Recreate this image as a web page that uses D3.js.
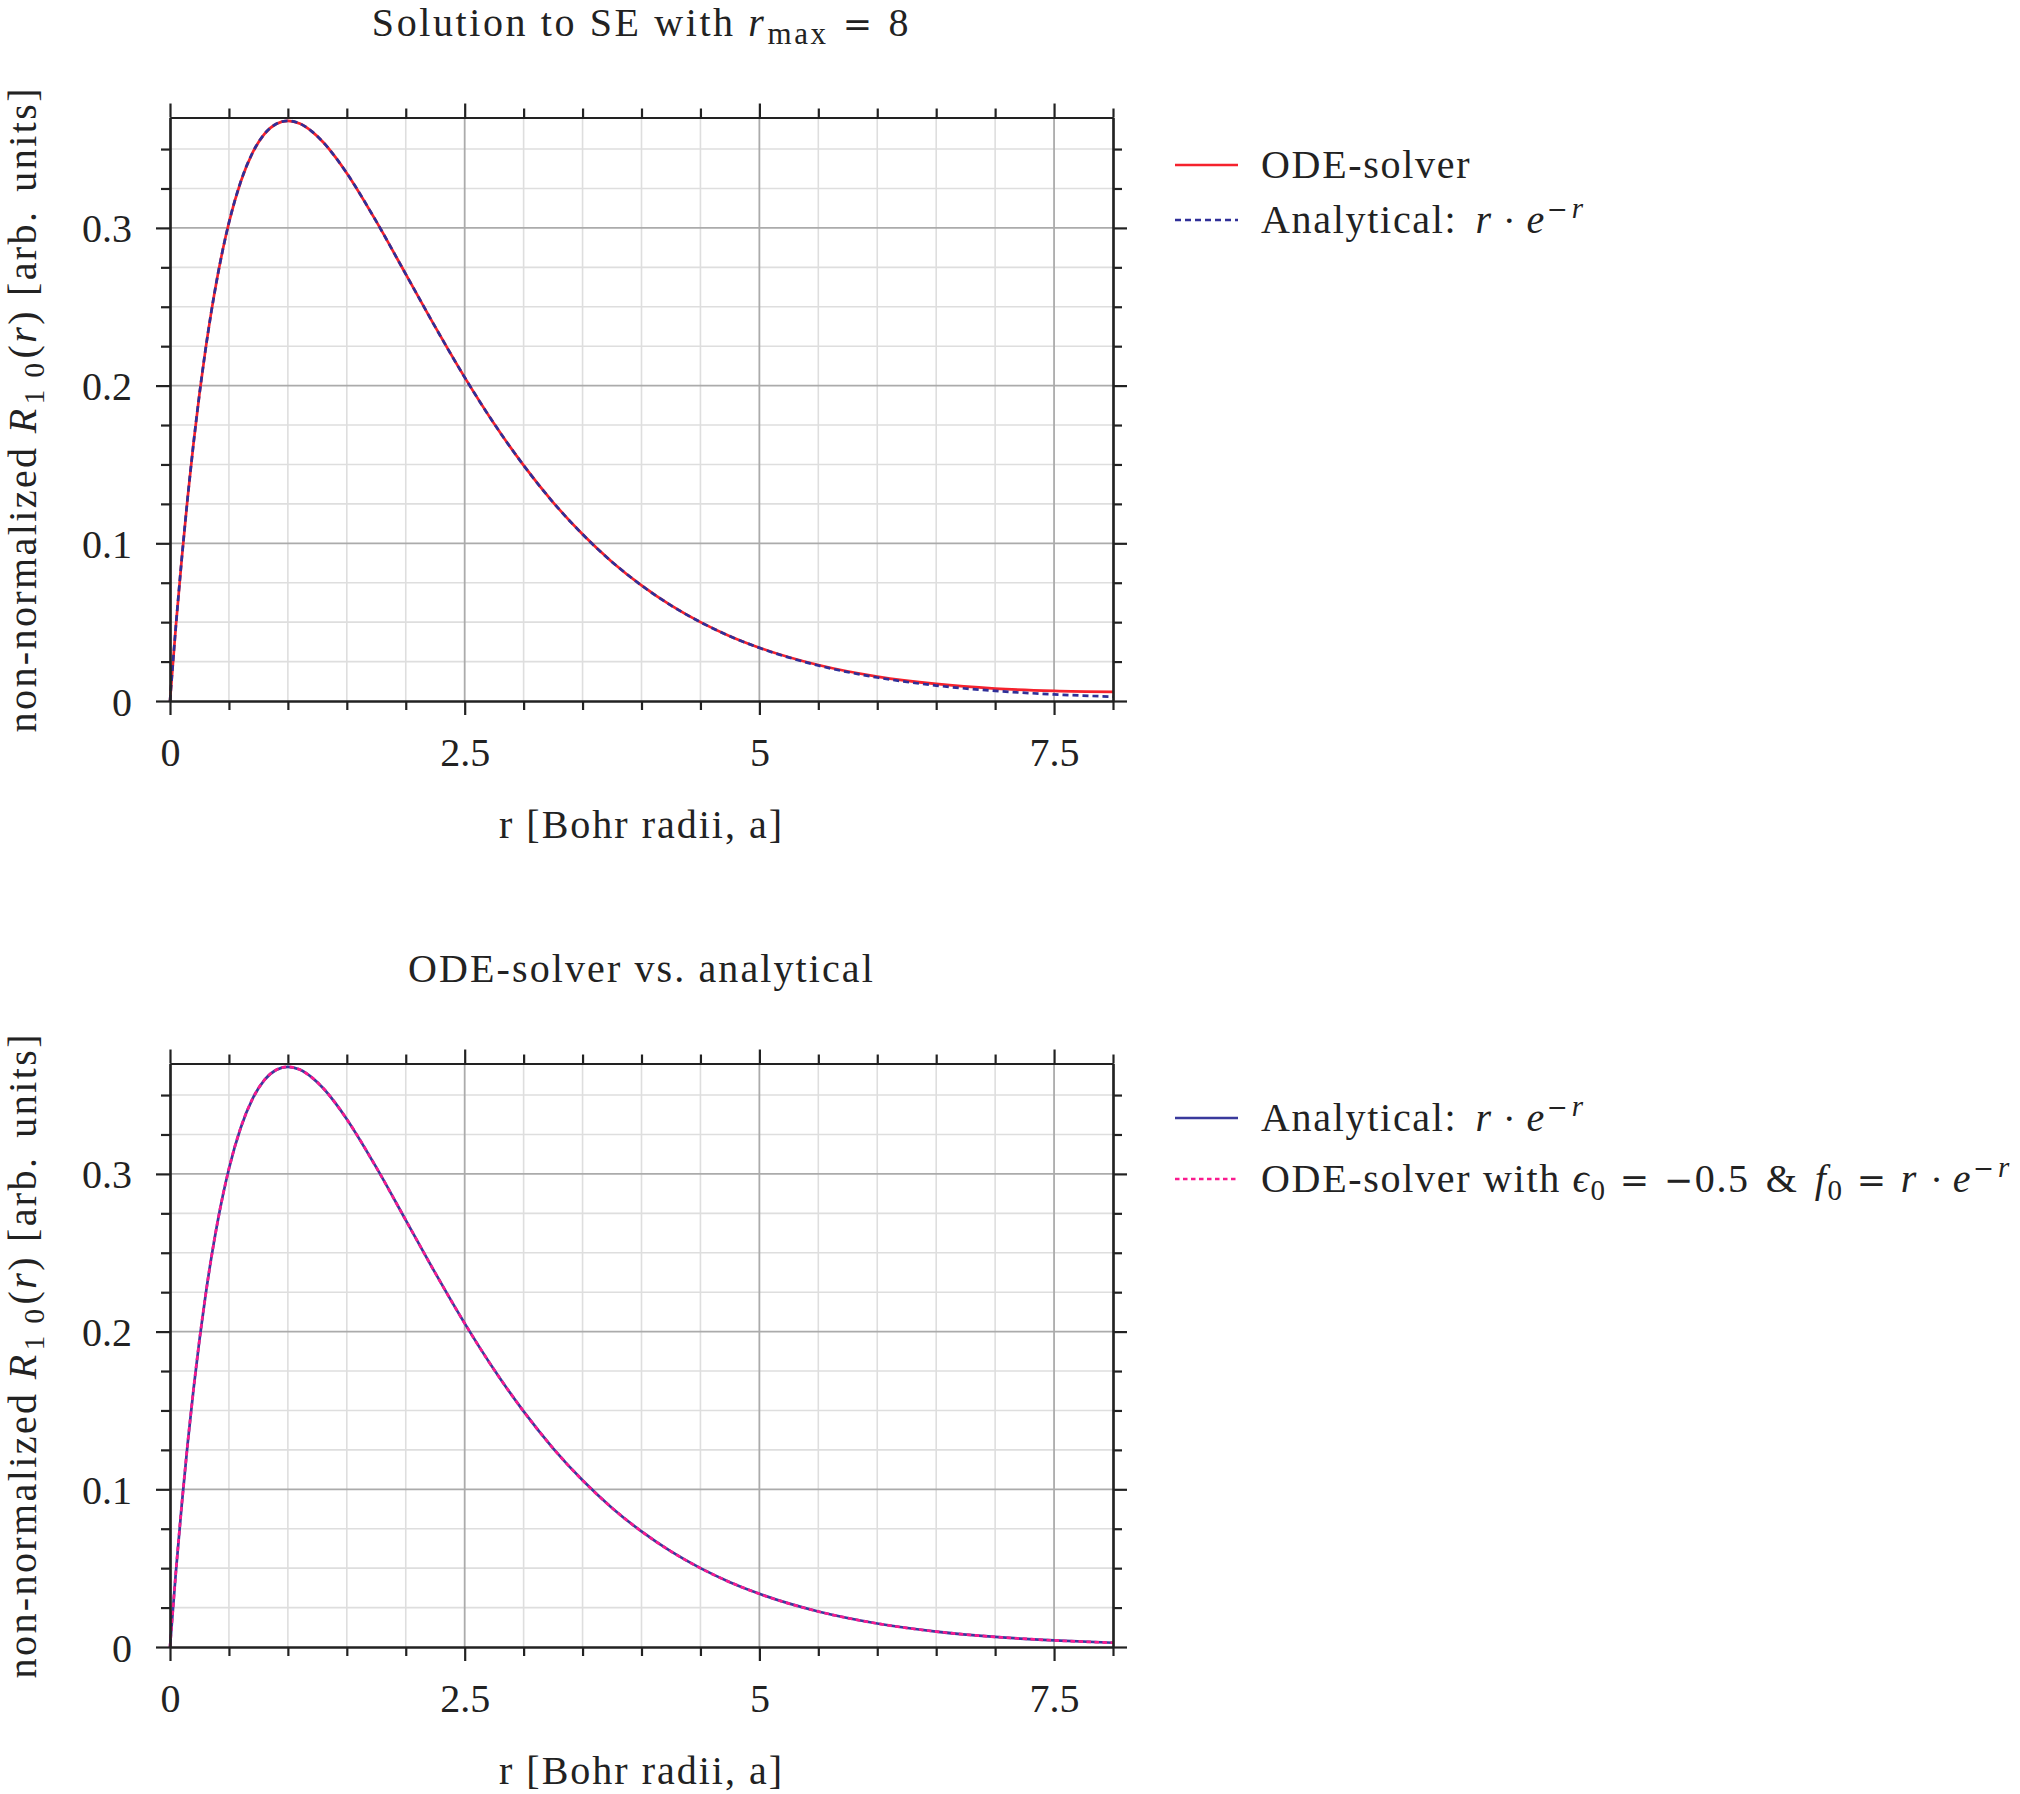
<!DOCTYPE html>
<html>
<head>
<meta charset="utf-8">
<script src="https://cdn.jsdelivr.net/npm/d3@7"></script>
<style>
  html, body { margin: 0; padding: 0; background: #ffffff; }
  svg { display: block; }
  text { font-family: "Liberation Serif", "Times New Roman", serif; fill: #222; }
</style>
</head>
<body>
<svg id="chart" width="2020" height="1794"></svg>
<script>
// ---------------- data ----------------
const rValues = [0, 0.05, 0.1, 0.15, 0.2, 0.25, 0.3, 0.35, 0.4, 0.45, 0.5, 0.6, 0.7, 0.8, 0.9, 1.0,
  1.1, 1.2, 1.3, 1.4, 1.5, 1.75, 2, 2.25, 2.5, 2.75, 3, 3.25, 3.5, 3.75, 4, 4.25, 4.5, 4.75, 5,
  5.5, 6, 6.5, 7, 7.5, 8];
const analyticalValues = [0, 0.0476, 0.0905, 0.1291, 0.1637, 0.1947, 0.2222, 0.2466, 0.2681, 0.2869,
  0.3033, 0.3293, 0.3476, 0.3595, 0.3659, 0.3679, 0.3662, 0.3614, 0.3543, 0.3452, 0.3347, 0.3041,
  0.2707, 0.2372, 0.2052, 0.1758, 0.1494, 0.1260, 0.1057, 0.0882, 0.0733, 0.0606, 0.0500, 0.0411,
  0.0337, 0.0225, 0.0149, 0.0098, 0.0064, 0.0042, 0.0027];
const odeTopValues = [0, 0.0476, 0.0905, 0.1291, 0.1637, 0.1947, 0.2222, 0.2466, 0.2681, 0.2869,
  0.3033, 0.3293, 0.3476, 0.3595, 0.3659, 0.3679, 0.3662, 0.3614, 0.3543, 0.3452, 0.3347, 0.3041,
  0.2707, 0.2372, 0.2052, 0.1758, 0.1494, 0.1260, 0.1057, 0.0882, 0.0733, 0.0606, 0.0500, 0.0411,
  0.0338, 0.0228, 0.0155, 0.0108, 0.0079, 0.0064, 0.0058];
const odeBottomValues = [0, 0.0476, 0.0905, 0.1291, 0.1637, 0.1947, 0.2222, 0.2466, 0.2681, 0.2869,
  0.3033, 0.3293, 0.3476, 0.3595, 0.3659, 0.3679, 0.3662, 0.3614, 0.3543, 0.3452, 0.3347, 0.3041,
  0.2707, 0.2372, 0.2052, 0.1758, 0.1494, 0.1260, 0.1057, 0.0882, 0.0733, 0.0606, 0.0500, 0.0411,
  0.0337, 0.0225, 0.0149, 0.0098, 0.0064, 0.0042, 0.0027];

const xMajorTicks = [0, 2.5, 5, 7.5];
const xTickLabels = ["0", "2.5", "5", "7.5"];
const xMinorTicks = [0.5, 1, 1.5, 2, 3, 3.5, 4, 4.5, 5.5, 6, 6.5, 7, 8];
const yMajorTicks = [0, 0.1, 0.2, 0.3];
const yTickLabels = ["0", "0.1", "0.2", "0.3"];
const yMinorTicks = [0.025, 0.05, 0.075, 0.125, 0.15, 0.175, 0.225, 0.25, 0.275, 0.325, 0.35];
const xDomain = [0, 8];
const yDomain = [0, 0.37];

// ---------------- layout ----------------
const svg = d3.select("#chart");
const X0 = 170, X1 = 1113;
const PX_PER_UNIT_Y = 1577;

const analyticalLabel = [["Analytical:", {}], ["r", {it: true, dx: 18}], ["·", {op: true, dx: 11}], ["e", {it: true, dx: 10}],
  ["−", {sup: true, op: true, dx: 1}], ["r", {sup: true, it: true, dx: 2}]];

const panels = [
  { y0: 701, titleY: 36,
    title: [["Solution to SE with ", {}], ["r", {it: true}], ["max", {sub: true, dx: 1, big: true}], ["=", {op: true, dx: 14}], ["8", {dx: 14}]],
    titleLS: 2.6,
    series: [
      { values: odeTopValues, color: "#f5222d", dash: null },
      { values: analyticalValues, color: "#2f2f98", dash: "6 4" }
    ],
    legendRows: [165, 220],
    legend: [
      [[["ODE-solver", {}]], "#f5222d", null],
      [analyticalLabel, "#2f2f98", "6 4"]
    ]
  },
  { y0: 1647, titleY: 982,
    title: [["ODE-solver vs. analytical", {}]],
    titleLS: 2.1,
    series: [
      { values: analyticalValues, color: "#3a3a9c", dash: null },
      { values: odeBottomValues, color: "#fa1a8e", dash: "4.5 3.5" }
    ],
    legendRows: [1118, 1179],
    legend: [
      [analyticalLabel, "#3a3a9c", null],
      [[["ODE-solver with ", {}], ["ϵ", {it: true}], ["0", {sub: true}], ["=", {op: true, dx: 13}], ["−", {op: true, dx: 13}],
        ["0.5", {}], ["&", {dx: 16}], ["f", {it: true, dx: 16}], ["0", {sub: true}], ["=", {op: true, dx: 13}],
        ["r", {it: true, dx: 13}], ["·", {op: true, dx: 13}], ["e", {it: true, dx: 9}],
        ["−", {sup: true, op: true, dx: 1}], ["r", {sup: true, it: true, dx: 2}]],
        "#fa1a8e", "4.5 3.5"]
    ]
  }
];

const FS = 40;          // main font size
const SFS = 29;         // sub/superscript size

function richText(sel, parts) {
  let shift = 0;
  parts.forEach(([str, o]) => {
    let target = 0;
    if (o.sub) target = 8;
    if (o.sup) target = -15;
    const t = sel.append("tspan").text(str);
    if (target !== shift) { t.attr("dy", target - shift); shift = target; }
    if (o.dx) t.attr("dx", o.dx);
    if (o.it) t.attr("font-style", "italic");
    if (o.op) t.style("font-family", "'DejaVu Serif', serif").attr("font-size", (o.sup || o.sub) ? 25 : 35);
    else if (o.big) t.attr("font-size", 31);
    else if (o.sub || o.sup) t.attr("font-size", SFS);
  });
}

panels.forEach(p => {
  const x = d3.scaleLinear().domain(xDomain).range([X0, X1]);
  const y = d3.scaleLinear().domain(yDomain).range([p.y0, p.y0 - yDomain[1] * PX_PER_UNIT_Y]);
  const g = svg.append("g");
  const yTop = y(yDomain[1]);

  // grid
  const grid = g.append("g");
  grid.selectAll(".xminor").data(xMinorTicks.filter(v => v < 8)).join("line")
    .attr("x1", d => x(d)).attr("x2", d => x(d)).attr("y1", p.y0).attr("y2", yTop)
    .attr("stroke", "#dedede").attr("stroke-width", 1.6);
  grid.selectAll(".yminor").data(yMinorTicks).join("line")
    .attr("x1", X0).attr("x2", X1).attr("y1", d => y(d)).attr("y2", d => y(d))
    .attr("stroke", "#dedede").attr("stroke-width", 1.6);
  grid.selectAll(".xmajor").data(xMajorTicks.filter(v => v > 0)).join("line")
    .attr("x1", d => x(d)).attr("x2", d => x(d)).attr("y1", p.y0).attr("y2", yTop)
    .attr("stroke", "#ababab").attr("stroke-width", 1.8);
  grid.selectAll(".ymajor").data(yMajorTicks.filter(v => v > 0)).join("line")
    .attr("x1", X0).attr("x2", X1).attr("y1", d => y(d)).attr("y2", d => y(d))
    .attr("stroke", "#ababab").attr("stroke-width", 1.8);

  // curves
  const line = d3.line().x((d, i) => x(rValues[i])).y(d => y(d)).curve(d3.curveMonotoneX);
  p.series.forEach(s => {
    g.append("path").datum(s.values).attr("d", line)
      .attr("fill", "none").attr("stroke", s.color).attr("stroke-width", 2.7)
      .attr("stroke-dasharray", s.dash);
  });

  // axes (ticks outward)
  function styleAxis(a) {
    a.selectAll("path.domain").attr("stroke", "#222").attr("stroke-width", 2.2);
    a.selectAll(".tick line").attr("stroke", "#222").attr("stroke-width", 2.2);
    a.selectAll("text").style("font-family", "'Liberation Serif', serif").attr("font-size", FS).attr("fill", "#222");
  }
  const bottomMajor = g.append("g").attr("transform", `translate(0,${p.y0})`)
    .call(d3.axisBottom(x).tickValues(xMajorTicks).tickFormat((d, i) => xTickLabels[i])
      .tickSize(14).tickSizeOuter(0).tickPadding(22));
  styleAxis(bottomMajor);
  bottomMajor.selectAll("text").attr("dy", null).attr("y", 65);
  const bottomMinor = g.append("g").attr("transform", `translate(0,${p.y0})`)
    .call(d3.axisBottom(x).tickValues(xMinorTicks).tickFormat("").tickSize(9).tickSizeOuter(0));
  styleAxis(bottomMinor);
  const topMajor = g.append("g").attr("transform", `translate(0,${yTop})`)
    .call(d3.axisTop(x).tickValues(xMajorTicks).tickFormat("").tickSize(14).tickSizeOuter(0));
  styleAxis(topMajor);
  const topMinor = g.append("g").attr("transform", `translate(0,${yTop})`)
    .call(d3.axisTop(x).tickValues(xMinorTicks).tickFormat("").tickSize(9).tickSizeOuter(0));
  styleAxis(topMinor);

  const leftMajor = g.append("g").attr("transform", `translate(${X0},0)`)
    .call(d3.axisLeft(y).tickValues(yMajorTicks).tickFormat((d, i) => yTickLabels[i])
      .tickSize(14).tickSizeOuter(0).tickPadding(24));
  styleAxis(leftMajor);
  leftMajor.selectAll("text").attr("dy", 14);
  const leftMinor = g.append("g").attr("transform", `translate(${X0},0)`)
    .call(d3.axisLeft(y).tickValues(yMinorTicks).tickFormat("").tickSize(9).tickSizeOuter(0));
  styleAxis(leftMinor);
  const rightMajor = g.append("g").attr("transform", `translate(${X1},0)`)
    .call(d3.axisRight(y).tickValues(yMajorTicks).tickFormat("").tickSize(14).tickSizeOuter(0));
  styleAxis(rightMajor);
  const rightMinor = g.append("g").attr("transform", `translate(${X1},0)`)
    .call(d3.axisRight(y).tickValues(yMinorTicks).tickFormat("").tickSize(9).tickSizeOuter(0));
  styleAxis(rightMinor);

  // axis labels
  g.append("text").attr("x", (X0 + X1) / 2).attr("y", p.y0 + 137)
    .attr("text-anchor", "middle").attr("font-size", FS).style("letter-spacing", "2px")
    .text("r [Bohr radii, a]");
  const yl = g.append("text")
    .attr("transform", `translate(36,${(p.y0 + yTop) / 2}) rotate(-90)`)
    .attr("text-anchor", "middle").attr("font-size", FS).style("letter-spacing", "2.4px");
  richText(yl, [["non-normalized ", {}], ["R", {it: true}], ["1", {sub: true, dx: 2}], ["0", {sub: true, dx: 10}],
    ["(", {dx: 2}], ["r", {it: true}], [")", {}], ["[arb.", {dx: 13}], ["units]", {dx: 18}]]);

  // title
  const tt = g.append("text").attr("x", (X0 + X1) / 2).attr("y", p.titleY)
    .attr("text-anchor", "middle").attr("font-size", FS).style("letter-spacing", p.titleLS + "px");
  richText(tt, p.title);

  // legend
  p.legend.forEach(([parts, color, dash], i) => {
    const ly = p.legendRows[i];
    g.append("line").attr("x1", 1175).attr("x2", 1238).attr("y1", ly).attr("y2", ly)
      .attr("stroke", color).attr("stroke-width", 2.7).attr("stroke-dasharray", dash);
    const lt = g.append("text").attr("x", 1261).attr("y", ly + 13)
      .attr("font-size", FS).style("letter-spacing", "1.7px");
    richText(lt, parts);
  });
});
</script>
</body>
</html>
